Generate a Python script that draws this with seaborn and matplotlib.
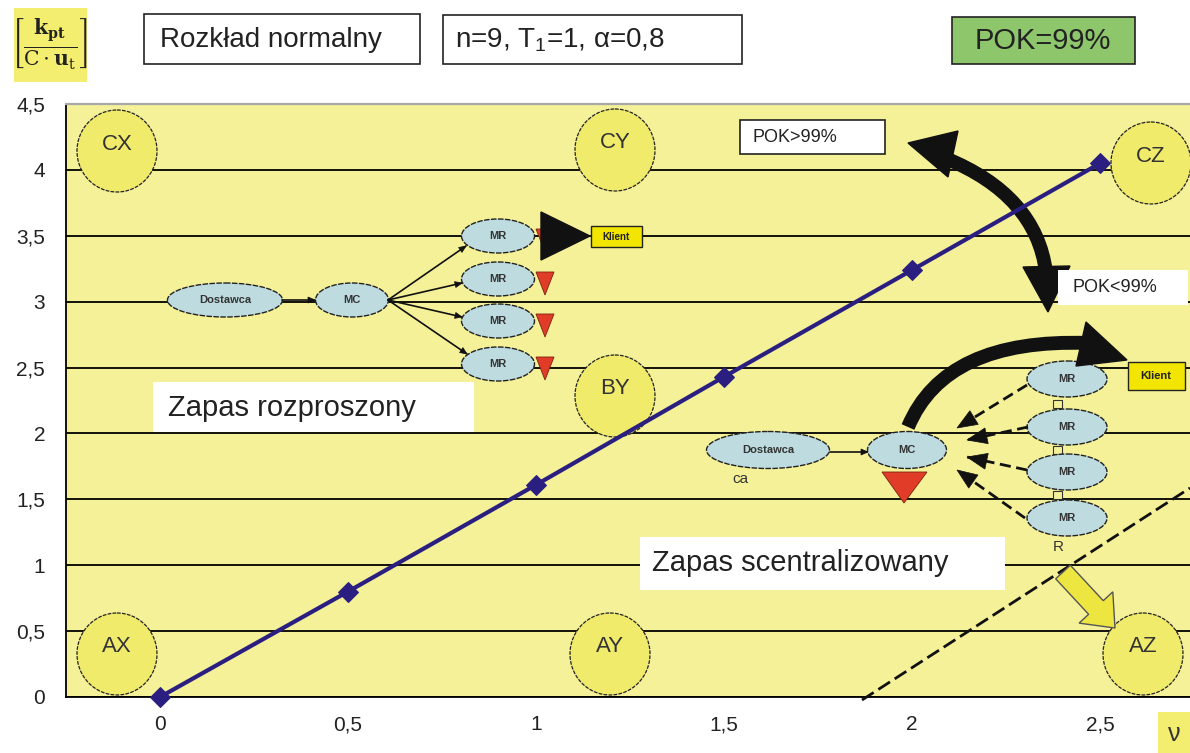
import numpy as np
import matplotlib
matplotlib.use("Agg")
import matplotlib.pyplot as plt
import matplotlib.transforms as mtransforms
from matplotlib.patches import Ellipse, Rectangle, Polygon, PathPatch, FancyArrow
from matplotlib.path import Path
import seaborn as sns

# chart data
nu = [0, 0.5, 1, 1.5, 2, 2.5]
ratio = [0, 0.80, 1.61, 2.43, 3.24, 4.05]
x_labels = ["0", "0,5", "1", "1,5", "2", "2,5"]
y_ticks = [0, 0.5, 1, 1.5, 2, 2.5, 3, 3.5, 4, 4.5]
y_labels = ["0", "0,5", "1", "1,5", "2", "2,5", "3", "3,5", "4", "4,5"]
zone_names = ["CX", "CY", "CZ", "BY", "AX", "AY", "AZ"]

sns.set_style("white")
plt.rcParams['font.family'] = ['Liberation Sans', 'DejaVu Sans']
plt.rcParams['mathtext.fontset'] = 'dejavuserif'

W, H = 1190, 753
fig = plt.figure(figsize=(11.9, 7.53), dpi=100)
ax = fig.add_axes([66 / W, 1 - 697 / H, (W - 66) / W, (697 - 104) / H])
ax.set_facecolor('#F5F198')

sns.lineplot(x=nu, y=ratio, marker='D', markersize=10, color='#2A1F80',
             markeredgecolor='#2A1F80', lw=3, ax=ax, zorder=6, clip_on=False)

ax.set_xlim(-0.25, -0.25 + (W - 66) / 376)
ax.set_ylim(0, 4.5)
ax.set_xticks(nu, x_labels)
ax.set_xticks(np.arange(-0.25, 2.5, 0.5), minor=True)
ax.tick_params(axis='x', which='major', length=0, pad=13, labelsize=15, labelcolor='#222')
ax.tick_params(axis='x', which='minor', length=9, width=1.2, color='black', direction='out')
ax.set_yticks(y_ticks, y_labels)
ax.tick_params(axis='y', length=7, width=1.2, color='black', pad=8, labelsize=15,
               labelcolor='#222', direction='out')
ax.set_axisbelow(True)
ax.yaxis.grid(True, color='black', lw=1.3)
ax.xaxis.grid(False)
for s in ['left', 'bottom']:
    ax.spines[s].set_color('black')
    ax.spines[s].set_linewidth(1.3)
ax.spines['right'].set_visible(False)
ax.spines['top'].set_color('#A8A8A8')
ax.spines['top'].set_linewidth(1.6)
ax.set_xlabel('')
ax.set_ylabel('')

# pixel coordinates (origin top-left) for the diagram overlay
px = mtransforms.Affine2D().scale(1 / W, -1 / H).translate(0, 1) + fig.transFigure


def patch(p, z=3):
    p.set_transform(px)
    p.set_clip_on(False)
    p.set_zorder(z)
    ax.add_patch(p)


def text(x, y, s, z=5, **kw):
    kw.setdefault('ha', 'center')
    kw.setdefault('va', 'center')
    kw.setdefault('color', '#222')
    ax.text(x, y, s, transform=px, clip_on=False, zorder=z, **kw)


def head(tip, frm, L, Wd, color='#111', z=4):
    tip = np.array(tip, float)
    frm = np.array(frm, float)
    d = (tip - frm) / np.linalg.norm(tip - frm)
    n = np.array([-d[1], d[0]])
    base = tip - d * L
    patch(Polygon([tip, base + n * Wd / 2, base - n * Wd / 2], closed=True,
                  fc=color, ec=color, lw=0.5), z)


def arrow(frm, tip, L=7, Wd=6, ls='-', lw=1.2, z=4):
    ax.plot([frm[0], tip[0]], [frm[1], tip[1]], color='#111', lw=lw, ls=ls,
            transform=px, clip_on=False, zorder=z)
    head(tip, frm, L, Wd, z=z)


# header boxes
patch(Rectangle((14, 8), 73, 74, fc='#F3EE70', ec='none'))
text(50, 44, r'$\left[\frac{\mathbf{k}_{\mathbf{pt}}}{\mathrm{C}\cdot\mathbf{u}_{\mathrm{t}}}\right]$',
     fontsize=21)
patch(Rectangle((144, 14), 276, 50, fc='white', ec='#222', lw=1.2))
text(160, 40, 'Rozkład normalny', fontsize=20, ha='left')
patch(Rectangle((443, 15), 299, 49, fc='white', ec='#222', lw=1.2))
text(455, 40, r'n=9, T$_\mathregular{1}$=1, α=0,8', fontsize=20, ha='left')
patch(Rectangle((952, 17), 183, 47, fc='#8EC66C', ec='#222', lw=1.2))
text(1043, 41, 'POK=99%', fontsize=21)

# zone circles
zone_xy = [(117, 151), (615, 150), (1151, 163), (615, 396), (117, 654), (610, 654), (1143, 654)]
for name, (cx, cy) in zip(zone_names, zone_xy):
    patch(Ellipse((cx, cy), 80, 82, fc='#F1EB6C', ec='#222', lw=0.9, ls=(0, (3, 1))))
    text(cx, cy - 7, name, fontsize=16, color='#333')

# region captions
patch(Rectangle((153, 382), 321, 50, fc='white', ec='none'))
text(168, 408, 'Zapas rozproszony', fontsize=21, ha='left')
patch(Rectangle((640, 537), 365, 53, fc='white', ec='none'))
text(652, 563, 'Zapas scentralizowany', fontsize=21, ha='left')

# dashed boundary line
ax.plot([862, 1190], [700, 488], color='#111', lw=2, ls=(0, (5, 2)),
        transform=px, clip_on=False, zorder=3)

ell_kw = dict(fc='#BEDCE0', ec='#222', lw=1, ls=(0, (4, 1)))

# distributed stock diagram
patch(Ellipse((225, 300), 115, 34, **ell_kw), 4)
text(225, 300, 'Dostawca', fontsize=8, weight='bold', color='#333')
arrow((282, 300), (315, 300))
patch(Ellipse((352, 300), 73, 34, **ell_kw), 4)
text(352, 300, 'MC', fontsize=8, weight='bold', color='#333')
mr_left = [236, 279, 321, 364]
ends = [(466, 246), (462, 283), (462, 317), (467, 354)]
for cy, e in zip(mr_left, ends):
    arrow((388, 300), e)
    patch(Ellipse((498, cy), 73, 34, **ell_kw), 4)
    text(498, cy, 'MR', fontsize=8, weight='bold', color='#333')
    patch(Polygon([(536, cy - 7), (554, cy - 7), (545, cy + 16)], closed=True,
                  fc='#E03C28', ec='#7A2010', lw=0.6), 4)
patch(Polygon([(541, 212), (541, 260), (590, 236)], closed=True, fc='#111', ec='#111'), 4)
patch(Rectangle((591, 226), 51, 21, fc='#F2E600', ec='#222', lw=1), 4)
text(616, 236.5, 'Klient', fontsize=7, weight='bold')

# centralized stock diagram
patch(Ellipse((768, 450), 123, 37, **ell_kw), 4)
text(768, 450, 'Dostawca', fontsize=8, weight='bold', color='#333')
text(732, 479, 'ca', fontsize=11, ha='left', color='#333')
arrow((830, 452), (868, 452))
patch(Ellipse((907, 450), 79, 37, **ell_kw), 4)
text(907, 450, 'MC', fontsize=8, weight='bold', color='#333')
patch(Polygon([(882, 472), (927, 472), (904, 503)], closed=True,
              fc='#E03C28', ec='#7A2010', lw=0.6), 4)
mr_right = [379, 427, 472, 518]
starts = [(1027, 385), (1028, 427), (1027, 470), (1025, 518)]
tips = [(957, 428), (967, 440), (967, 457), (957, 470)]
for y in [400, 446, 491]:
    patch(Rectangle((1053, y), 9, 8, fc='#F5F198', ec='#333', lw=0.8), 3)
for cy, s, tp in zip(mr_right, starts, tips):
    patch(Ellipse((1067, cy), 80, 36, **ell_kw), 4)
    text(1067, cy, 'MR', fontsize=8, weight='bold', color='#333')
    arrow(s, tp, L=20, Wd=16, ls=(0, (4, 2)), lw=2)
text(1058, 547, 'R', fontsize=11, color='#333')
patch(Rectangle((1128, 362), 57, 28, fc='#F2E600', ec='#222', lw=1), 4)
text(1156, 376, 'Klient', fontsize=8, weight='bold')

# thick curved arrows
body = Path([(908, 427), (945, 338), (1088, 343)], [Path.MOVETO, Path.CURVE3, Path.CURVE3])
patch(PathPatch(body, fill=False, ec='#111', lw=10, capstyle='butt'), 4)
patch(Polygon([(1086, 322), (1127, 360), (1076, 366)], closed=True, fc='#111', ec='#111'), 4)

swing = Path([(945, 158), (1036, 195), (1046, 272)], [Path.MOVETO, Path.CURVE3, Path.CURVE3])
patch(PathPatch(swing, fill=False, ec='#111', lw=10, capstyle='butt'), 4)
patch(Polygon([(908, 143), (958, 131), (948, 177)], closed=True, fc='#111', ec='#111'), 4)
patch(Polygon([(1023, 267), (1070, 266), (1048, 312)], closed=True, fc='#111', ec='#111'), 4)

patch(Rectangle((740, 120), 145, 34, fc='white', ec='#222', lw=1.2), 4)
text(752, 138, 'POK>99%', fontsize=13, ha='left')
patch(Rectangle((1058, 270), 130, 35, fc='white', ec='none'), 4)
text(1072, 288, 'POK<99%', fontsize=13, ha='left')

# yellow arrow towards AZ
patch(FancyArrow(1063, 572, 52, 56, width=20, head_width=46, head_length=28,
                 length_includes_head=True, fc='#EEE640', ec='#555', lw=1), 4)

# nu axis label
patch(Rectangle((1158, 712), 32, 41, fc='#F3EE70', ec='none'), 3)
text(1174, 734, 'ν', fontsize=18, color='#333')

fig.savefig('out.png', dpi=100)
